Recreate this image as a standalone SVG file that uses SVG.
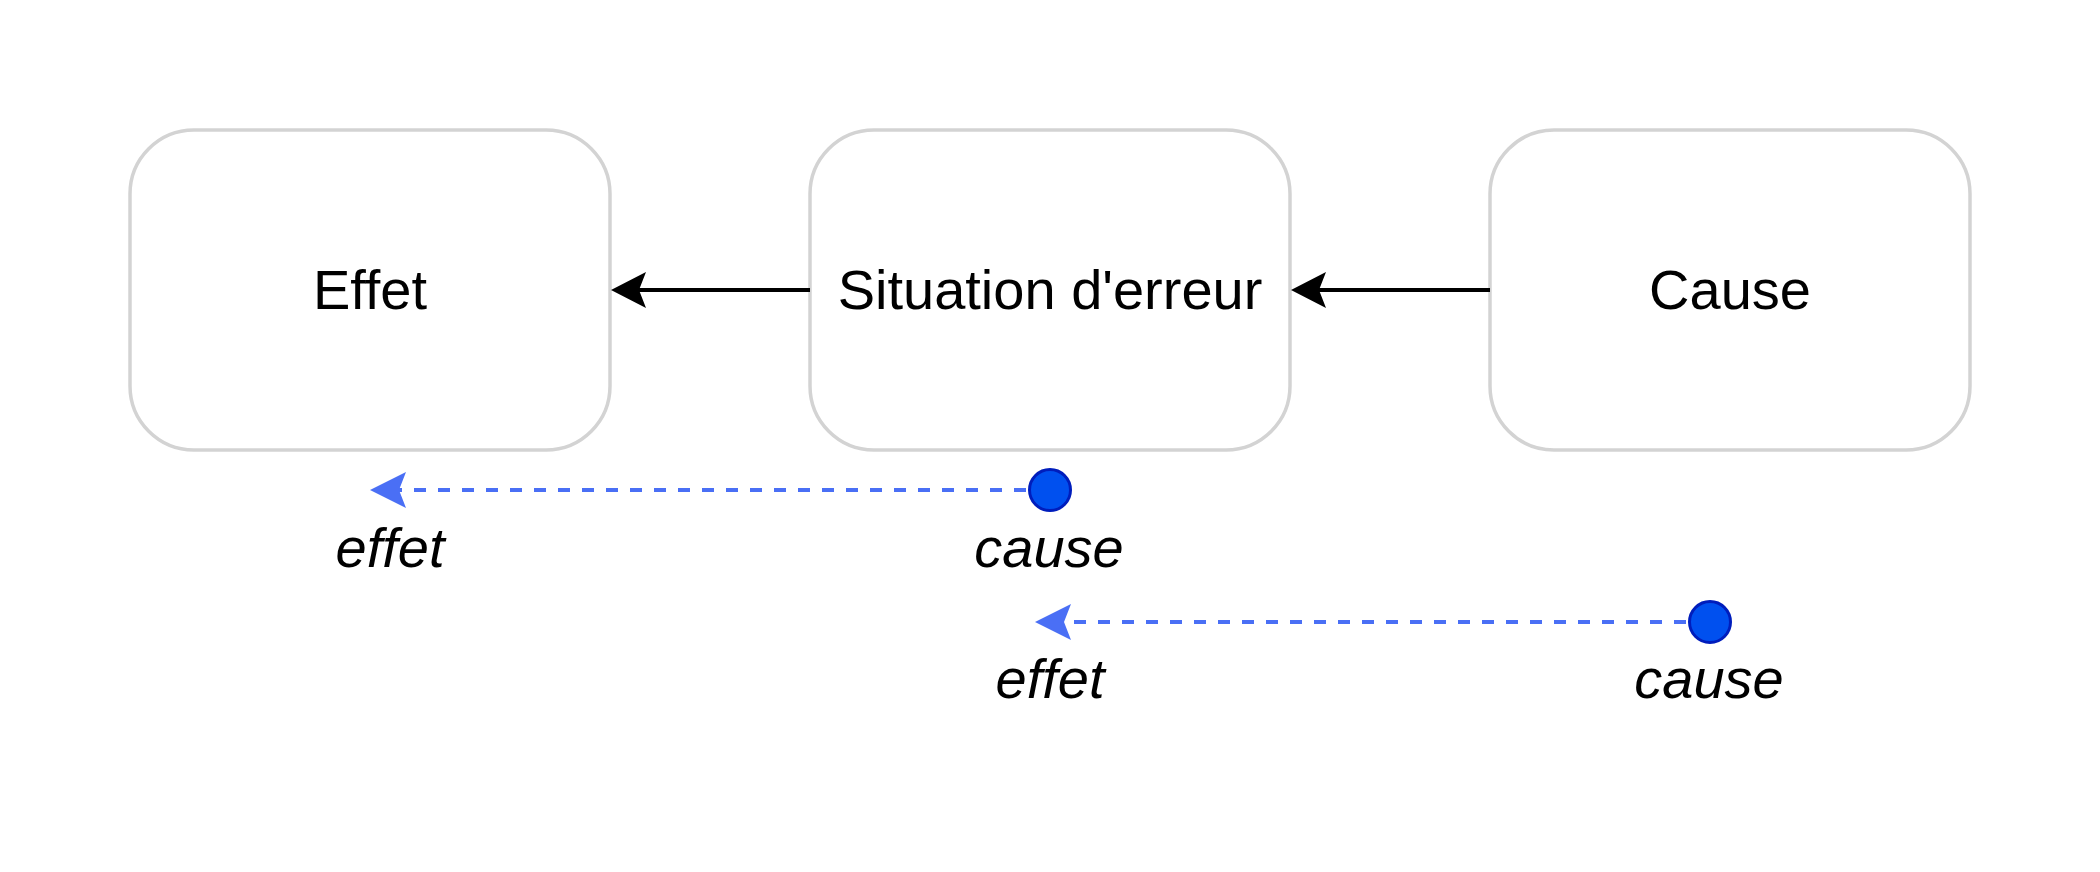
<svg xmlns="http://www.w3.org/2000/svg" width="2100" height="872" viewBox="0 0 2100 872">
<style>
.box{fill:#ffffff;stroke:#d3d3d3;stroke-width:3.5}
.lbl{font-family:"Liberation Sans",Arial,sans-serif;font-size:56px;fill:#000000;text-anchor:middle}
.it{font-family:"Liberation Sans",Arial,sans-serif;font-size:56px;font-style:italic;fill:#000000;text-anchor:middle}
.edge{stroke:#000000;stroke-width:4;fill:none}
.dash{stroke:#4a6ff5;stroke-width:4;stroke-dasharray:12 12;fill:none}
.dot{fill:#0050ef;stroke:#001dbc;stroke-width:3}
</style>
<rect width="2100" height="872" fill="#ffffff"/>
<g id="node-effet">
<rect class="box" x="130" y="130" width="480" height="320" rx="64" ry="64"/>
<text class="lbl" x="370" y="309">Effet</text>
</g>
<g id="node-situation">
<rect class="box" x="810" y="130" width="480" height="320" rx="64" ry="64"/>
<text class="lbl" x="1050" y="309">Situation d'erreur</text>
</g>
<g id="node-cause">
<rect class="box" x="1490" y="130" width="480" height="320" rx="64" ry="64"/>
<text class="lbl" x="1730" y="309">Cause</text>
</g>
<g id="connectors">
<line class="edge" x1="810" y1="290" x2="632" y2="290"/>
<path d="M611,290 L646,272 L639,290 L646,308 Z" fill="#000000"/>
<line class="edge" x1="1490" y1="290" x2="1312" y2="290"/>
<path d="M1291,290 L1326,272 L1319,290 L1326,308 Z" fill="#000000"/>
<line class="dash" x1="1026" y1="490" x2="392" y2="490"/>
<path d="M370,490 L406,472 L399,490 L406,508 Z" fill="#4a6ff5"/>
<circle class="dot" cx="1050" cy="490" r="20.5"/>
<line class="dash" x1="1686" y1="622" x2="1057" y2="622"/>
<path d="M1035,622 L1071,604 L1064,622 L1071,640 Z" fill="#4a6ff5"/>
<circle class="dot" cx="1710" cy="622" r="20.5"/>
</g>
<g id="labels">
<text class="it" x="390" y="567">effet</text>
<text class="it" x="1049" y="567">cause</text>
<text class="it" x="1050" y="698">effet</text>
<text class="it" x="1709" y="698">cause</text>
</g>
</svg>
